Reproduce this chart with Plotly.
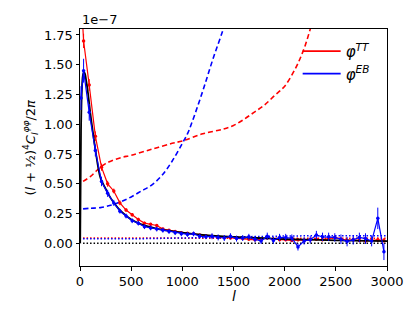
import plotly.graph_objects as go

# ---- data (values in units of 1e-7) ----
theory_l = [2, 10, 20, 30, 40, 50, 60, 80, 100, 125, 150, 200, 250, 300, 350, 400, 500, 600, 700, 800,
            1000, 1200, 1500, 1800, 2000, 2500, 3000]
theory_v = [0.0, 0.95, 1.32, 1.42, 1.44, 1.42, 1.37, 1.25, 1.10, 0.94, 0.79, 0.55, 0.46, 0.38, 0.32, 0.27,
            0.20, 0.16, 0.135, 0.115, 0.09, 0.072, 0.055, 0.043, 0.036, 0.026, 0.019]

bin_l = [10, 35, 90, 150, 210, 270, 330, 390, 450, 510, 570, 630, 690, 750, 810, 870, 930, 990,
         1050, 1110, 1170, 1230, 1290, 1350, 1410, 1470, 1530, 1590, 1650, 1710, 1770, 1830, 1890,
         1950, 2010, 2070, 2130, 2190, 2250, 2310, 2370, 2430, 2490, 2550, 2610, 2670, 2730, 2790,
         2850, 2910, 2970]

tt_v = [2.10, 1.70, 1.33, 0.90, 0.64, 0.50, 0.44, 0.34, 0.28, 0.24, 0.20, 0.17, 0.16, 0.15, 0.12,
        0.11, 0.10, 0.09, 0.085, 0.08, 0.07, 0.065, 0.06, 0.055, 0.05, 0.045, 0.045, 0.04, 0.035,
        0.03, 0.035, 0.045, 0.035, 0.03, 0.03, 0.025, 0.03, 0.025, 0.03, 0.035, 0.03, 0.04, 0.05,
        0.035, 0.025, 0.03, 0.025, 0.02, 0.025, 0.03, 0.025]
tt_err = [0.10, 0.06, 0.05, 0.04, 0.03, 0.025, 0.02, 0.02, 0.015, 0.015, 0.015, 0.012, 0.012, 0.012,
          0.012, 0.01, 0.01, 0.01, 0.01, 0.01, 0.01, 0.01, 0.01, 0.01, 0.01, 0.01, 0.01, 0.01, 0.01,
          0.01, 0.01, 0.012, 0.012, 0.012, 0.012, 0.012, 0.012, 0.012, 0.012, 0.012, 0.012, 0.015,
          0.015, 0.015, 0.015, 0.015, 0.015, 0.015, 0.015, 0.02, 0.02]

eb_v = [1.22, 1.45, 1.10, 0.78, 0.52, 0.42, 0.34, 0.27, 0.23, 0.19, 0.17, 0.14, 0.13, 0.12, 0.11,
        0.10, 0.09, 0.08, 0.075, 0.08, 0.06, 0.055, 0.06, 0.05, 0.045, 0.06, 0.04, 0.045, 0.055,
        0.035, 0.02, 0.06, 0.025, 0.05, 0.05, 0.045, -0.03, 0.02, 0.03, 0.07, 0.055, 0.055, 0.05,
        0.035, 0.015, 0.03, 0.05, 0.04, 0.02, 0.21, -0.07]
eb_err = [0.10, 0.10, 0.07, 0.05, 0.04, 0.03, 0.025, 0.02, 0.02, 0.02, 0.02, 0.02, 0.02, 0.02, 0.02,
          0.02, 0.02, 0.02, 0.02, 0.02, 0.02, 0.02, 0.025, 0.025, 0.025, 0.025, 0.025, 0.025, 0.025,
          0.025, 0.025, 0.03, 0.03, 0.03, 0.03, 0.03, 0.03, 0.03, 0.03, 0.035, 0.035, 0.035, 0.035,
          0.04, 0.04, 0.04, 0.04, 0.045, 0.045, 0.09, 0.07]

n0tt_l = [30, 100, 150, 200, 250, 300, 400, 500, 700, 900, 1000, 1200, 1400, 1500, 1600, 1700, 1800,
          1900, 2000, 2100, 2150, 2200, 2250, 2300]
n0tt_v = [0.52, 0.56, 0.60, 0.64, 0.67, 0.69, 0.72, 0.74, 0.79, 0.84, 0.86, 0.92, 0.96, 0.99, 1.04,
          1.10, 1.16, 1.24, 1.32, 1.46, 1.55, 1.66, 1.80, 1.95]

n0eb_l = [30, 100, 200, 300, 400, 500, 600, 700, 800, 900, 1000, 1050, 1100, 1200, 1300, 1400, 1450]
n0eb_v = [0.29, 0.295, 0.30, 0.32, 0.35, 0.39, 0.44, 0.49, 0.57, 0.69, 0.84, 0.92, 1.03, 1.28, 1.55,
          1.80, 1.95]

dot_l = [30, 500, 1000, 1500, 2000, 2500, 3000]
dot_tt_v = [0.045, 0.044, 0.043, 0.042, 0.042, 0.042, 0.042]
dot_eb_v = [0.038, 0.038, 0.045, 0.055, 0.062, 0.065, 0.065]
dot_zero_v = [0.0, 0.0, 0.0, 0.0, 0.0, 0.0, 0.0]

x_ticks = [0, 500, 1000, 1500, 2000, 2500, 3000]
y_ticks = [0, 0.25, 0.5, 0.75, 1.0, 1.25, 1.5, 1.75]
y_ticktext = ["0.00", "0.25", "0.50", "0.75", "1.00", "1.25", "1.50", "1.75"]

RED = "#ff0000"
BLUE = "#0000ff"
FONT = "DejaVu Sans"

fig = go.Figure()

# noise curves (dashed)
fig.add_trace(go.Scatter(x=n0tt_l, y=n0tt_v, mode="lines", line=dict(color=RED, width=1.6, dash="5px,3px"),
                         showlegend=False, line_shape="spline"))
fig.add_trace(go.Scatter(x=n0eb_l, y=n0eb_v, mode="lines", line=dict(color=BLUE, width=1.6, dash="5px,3px"),
                         showlegend=False, line_shape="spline"))
# dotted
fig.add_trace(go.Scatter(x=dot_l, y=dot_tt_v, mode="lines", line=dict(color=RED, width=1.5, dash="1.5px,2px"),
                         showlegend=False))
fig.add_trace(go.Scatter(x=dot_l, y=dot_eb_v, mode="lines", line=dict(color=BLUE, width=1.5, dash="1.5px,2px"),
                         showlegend=False))
fig.add_trace(go.Scatter(x=dot_l, y=dot_zero_v, mode="lines", line=dict(color="black", width=1.5, dash="1.5px,2px"),
                         showlegend=False))

# reconstructed bandpowers
fig.add_trace(go.Scatter(x=bin_l, y=tt_v, mode="lines+markers", line=dict(color=RED, width=1.2),
                         marker=dict(size=3.5, color=RED),
                         error_y=dict(type="data", array=tt_err, color=RED, thickness=1, width=0),
                         showlegend=False))
fig.add_trace(go.Scatter(x=theory_l, y=theory_v, mode="lines", line=dict(color="black", width=1.8),
                         showlegend=False, line_shape="spline"))
fig.add_trace(go.Scatter(x=bin_l, y=eb_v, mode="lines+markers", line=dict(color=BLUE, width=1.2),
                         marker=dict(size=3.5, color=BLUE),
                         error_y=dict(type="data", array=eb_err, color=BLUE, thickness=1, width=0),
                         showlegend=False))

# legend entries
fig.add_trace(go.Scatter(x=[None], y=[None], mode="lines", line=dict(color=RED, width=1.8),
                         name="<i>φ</i><sup><i>TT</i></sup>"))
fig.add_trace(go.Scatter(x=[None], y=[None], mode="lines", line=dict(color=BLUE, width=1.8),
                         name="<i>φ</i><sup><i>EB</i></sup>"))

axis_common = dict(showline=True, linecolor="black", linewidth=1, mirror=True, ticks="outside",
                   ticklen=3.5, tickwidth=1, tickcolor="black", showgrid=False, zeroline=False,
                   automargin=False, tickfont=dict(family=FONT, size=13, color="black"))

# page body has an 8px margin, so the figure is drawn 8px smaller and offset
fig.update_layout(
    width=405, height=302,
    margin=dict(l=72, r=26, t=21, b=44),
    paper_bgcolor="white", plot_bgcolor="white",
    font=dict(family=FONT, size=13, color="black"),
    xaxis=dict(range=[0, 3000], tickvals=x_ticks, **axis_common),
    yaxis=dict(range=[-0.19, 1.8], tickvals=y_ticks, ticktext=y_ticktext, **axis_common),
    legend=dict(x=0.709, y=0.975, xanchor="left", yanchor="top", bgcolor="rgba(255,255,255,0)",
                font=dict(family=FONT, size=15), tracegroupgap=0, itemwidth=38),
    annotations=[
        dict(text="1e−7", xref="paper", yref="paper", x=0, y=1, xanchor="left", yanchor="bottom",
             showarrow=False, font=dict(family=FONT, size=13)),
        dict(text="(<i>l</i> + ½)<sup>4</sup><i>C</i><sub><i>l</i></sub><sup><i>φφ</i></sup>/2<i>π</i>",
             xref="paper", yref="paper", x=0, y=0.5, xanchor="center", yanchor="middle",
             xshift=-50, textangle=-90, showarrow=False, font=dict(family=FONT, size=13)),
        dict(text="<i>l</i>", xref="paper", yref="paper", x=0.5, y=0, xanchor="center", yanchor="middle",
             yshift=-30, showarrow=False, font=dict(family=FONT, size=14)),
    ],
)

fig.write_html("out.html")
